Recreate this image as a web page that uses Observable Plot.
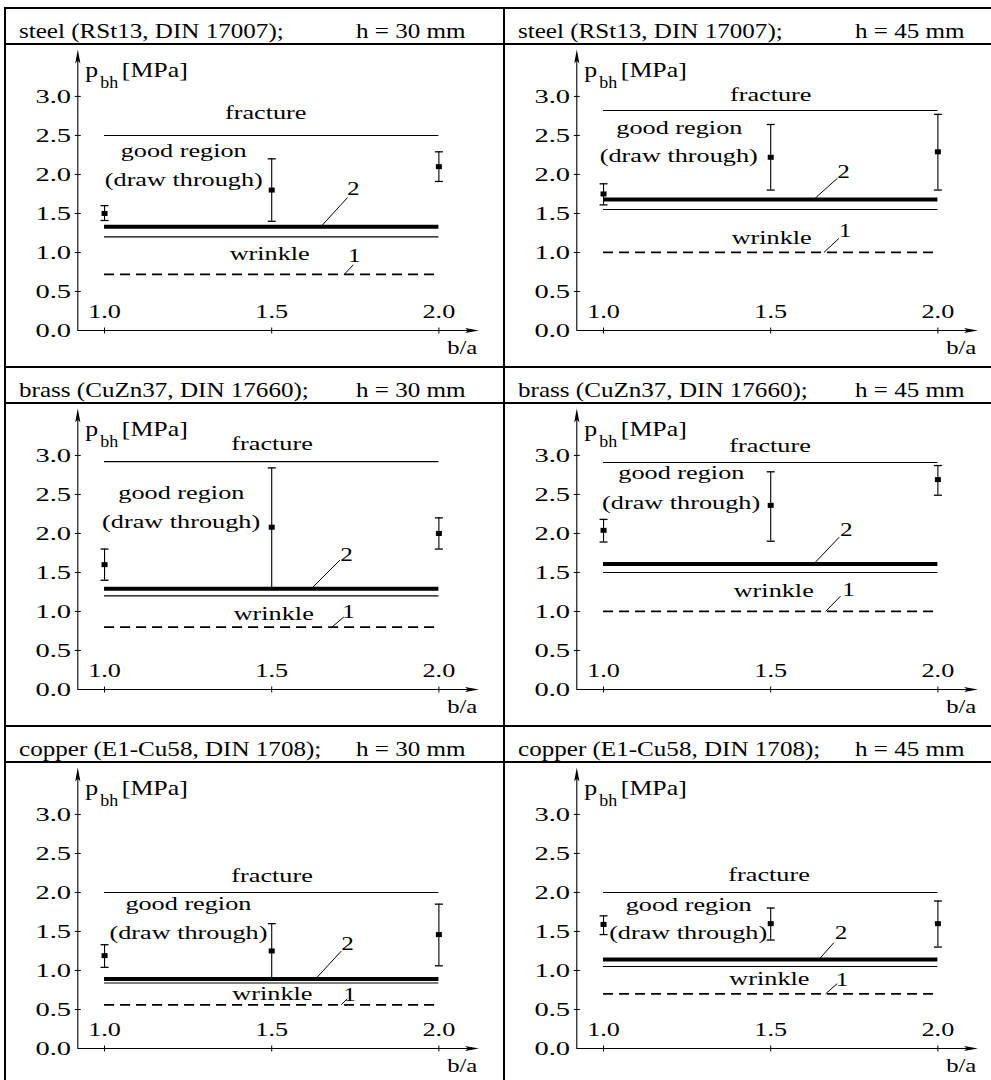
<!DOCTYPE html>
<html>
<head>
<meta charset="utf-8">
<script src="https://cdn.jsdelivr.net/npm/d3@7"></script>
<script src="https://cdn.jsdelivr.net/npm/@observablehq/plot@0.6"></script>
<style>
html, body { margin: 0; padding: 0; background: #fff; }
#grid { position: absolute; left: 0; top: 0; width: 991px; height: 1080px; overflow: hidden; }
.cell { position: absolute; width: 497px; height: 357px; border-left: 2px solid #000; border-top: 2px solid #000; }
.head { position: absolute; left: 0; top: 0; width: 520px; height: 34px; border-bottom: 2px solid #000;
        font-family: "Liberation Serif", "Times New Roman", serif; font-size: 22px; color: #000; }
.head span { position: absolute; top: 11px; line-height: 22px; white-space: nowrap; transform-origin: 0 0; transform: scaleX(1.14); }
.plotwrap { position: absolute; left: 0; top: 36px; }
.plotwrap svg text { font-family: "Liberation Serif", "Times New Roman", serif; }
</style>
</head>
<body>
<div id="grid"></div>
<script>
// ---------------- data ----------------
const materials = ["steel (RSt13, DIN 17007);", "steel (RSt13, DIN 17007);",
                   "brass (CuZn37, DIN 17660);", "brass (CuZn37, DIN 17660);",
                   "copper (E1-Cu58, DIN 1708);", "copper (E1-Cu58, DIN 1708);"];
const thickness = ["h = 30 mm", "h = 45 mm", "h = 30 mm", "h = 45 mm", "h = 30 mm", "h = 45 mm"];
const ratios = [1.0, 1.5, 2.0];              // b/a
const xTicks = [1.0, 1.5, 2.0];
const yTicks = [0, 0.5, 1.0, 1.5, 2.0, 2.5, 3.0];

const fractureLimit = [2.5, 2.82, 2.92, 2.91, 2.0, 2.0];
const curve2 = [1.33, 1.68, 1.29, 1.61, 0.89, 1.14];
const wrinkleLimit = [1.2, 1.55, 1.2, 1.5, 0.84, 1.05];
const curve1 = [0.72, 1.0, 0.8, 1.0, 0.56, 0.70];

const meanP = [[1.5, 1.8, 2.1], [1.75, 2.22, 2.29], [1.6, 2.08, 2.0],
               [2.04, 2.36, 2.69], [1.19, 1.25, 1.46], [1.59, 1.6, 1.6]];
const lowP  = [[1.41, 1.4, 1.91], [1.61, 1.8, 1.8], [1.4, 1.3, 1.8],
               [1.89, 1.9, 2.49], [1.04, 0.9, 1.06], [1.46, 1.39, 1.3]];
const highP = [[1.6, 2.2, 2.29], [1.88, 2.64, 2.77], [1.8, 2.84, 2.2],
               [2.18, 2.79, 2.87], [1.33, 1.6, 1.85], [1.7, 1.8, 1.89]];

// annotation anchors in data units [b/a, p_bh]
const fractureLabelAt = [[1.482, 2.71], [1.50, 2.946], [1.501, 3.068], [1.498, 3.043], [1.501, 2.132], [1.495, 2.143]];
const goodLabelAt     = [[1.237, 2.218], [1.227, 2.518], [1.23, 2.436], [1.233, 2.692], [1.251, 1.778], [1.255, 1.758]];
const drawLabelAt     = [[1.237, 1.855], [1.225, 2.154], [1.229, 2.064], [1.232, 2.316], [1.251, 1.406], [1.253, 1.40]];
const wrinkleLabelAt  = [[1.494, 0.90], [1.503, 1.113], [1.506, 0.889], [1.509, 1.184], [1.502, 0.624], [1.496, 0.811]];
const label2At = [[1.744, 1.74], [1.718, 1.953], [1.724, 1.65], [1.726, 1.966], [1.727, 1.256], [1.71, 1.408]];
const label1At = [[1.747, 0.88], [1.722, 1.20], [1.73, 0.91], [1.733, 1.197], [1.733, 0.615], [1.713, 0.798]];
// leader lines: [x on curve, x end, y end]
const leader2 = [[1.647, 1.727, 1.705], [1.629, 1.699, 1.949], [1.618, 1.704, 1.658], [1.629, 1.705, 1.953], [1.631, 1.708, 1.248], [1.644, 1.689, 1.357]];
const leader1 = [[1.717, 1.744, 0.842], [1.659, 1.704, 1.18], [1.68, 1.716, 0.93], [1.664, 1.709, 1.197], [1.708, 1.726, 0.637], [1.664, 1.699, 0.832]];

// ---------------- drawing ----------------
const X0 = 0.92, XTIP = 2.12, YTIP = 3.6;
const FONT = "Liberation Serif, Times New Roman, serif";
const arrowSym = {draw(c) { c.moveTo(0, 0); c.lineTo(2.6, 14); c.lineTo(0, 11); c.lineTo(-2.6, 14); c.closePath(); }};
const hTick = {draw(c) { c.moveTo(-3, 0); c.lineTo(3, 0); }};
const vTick = {draw(c) { c.moveTo(0, -3); c.lineTo(0, 3); }};
const capSym = {draw(c) { c.moveTo(-4, 0); c.lineTo(4, 0); }};
const sqSym = {draw(c) { c.rect(-3, -2.5, 6, 5); }};
const fmt = d3.format(".1f");

const stretchFactors = {annot: 1.38, num: 1.4, ylab: 1.5, xlab: 1.38, unitp: 1.23, unitsub: 1.12, xname: 1.3};

// widen glyphs horizontally (the source figure is horizontally stretched), keeping each label's anchor
function stretch(svg) {
  svg.querySelectorAll("g[aria-description]").forEach(g => {
    const f = stretchFactors[g.getAttribute("aria-description")];
    if (!f) return;
    g.querySelectorAll("text").forEach(t => {
      const anchor = getComputedStyle(t).textAnchor || "start";
      const b0 = t.getBBox();
      const L = t.getComputedTextLength();
      if (!(L > 0)) return;
      t.setAttribute("text-anchor", "start");
      t.style.textAnchor = "start";
      t.setAttribute("textLength", (L * f).toFixed(2));
      t.setAttribute("lengthAdjust", "spacingAndGlyphs");
      const b1 = t.getBBox();
      let want;
      if (anchor === "end") want = b0.x + b0.width - b1.width;
      else if (anchor === "middle") want = b0.x + b0.width / 2 - b1.width / 2;
      else want = b0.x;
      const shift = want - b1.x;
      if (Math.abs(shift) > 0.05) t.setAttribute("dx", shift.toFixed(2));
    });
  });
}

function txt(data, opts, kind) {
  return Plot.text(data, {fill: "#000", fontFamily: FONT, ariaDescription: kind, ...opts});
}

function panel(i) {
  const meas = ratios.map((x, j) => ({x, mean: meanP[i][j], lo: lowP[i][j], hi: highP[i][j]}));
  const pt = a => [{x: a[0], y: a[1]}];
  return Plot.plot({
    width: 497, height: 321,
    marginLeft: 71.3, marginRight: 24.5, marginTop: 4.1, marginBottom: 36,
    x: {domain: [X0, XTIP], axis: null},
    y: {domain: [0, YTIP], axis: null},
    style: {fontFamily: FONT, fontSize: "19px", color: "#000", background: "transparent", overflow: "visible"},
    marks: [
      // axes
      Plot.ruleY([0], {x1: X0, x2: XTIP - 0.02, stroke: "#000", strokeWidth: 1.1}),
      Plot.ruleX([X0], {y1: 0, y2: YTIP - 0.08, stroke: "#000", strokeWidth: 1.1}),
      Plot.dot([{x: XTIP, y: 0}], {x: "x", y: "y", symbol: arrowSym, rotate: 90, fill: "#000", stroke: "none"}),
      Plot.dot([{x: X0, y: YTIP}], {x: "x", y: "y", symbol: arrowSym, fill: "#000", stroke: "none"}),
      Plot.dot(yTicks.filter(t => t > 0), {x: () => X0, y: d => d, symbol: hTick, stroke: "#000", fill: "none", strokeWidth: 1}),
      Plot.dot(xTicks, {x: d => d, y: () => 0, symbol: vTick, stroke: "#000", fill: "none", strokeWidth: 1}),
      txt(yTicks, {y: d => d, frameAnchor: "left", textAnchor: "end", dx: -6.8, text: d => fmt(d), fontSize: 19}, "ylab"),
      txt(xTicks, {x: d => d, frameAnchor: "bottom", lineAnchor: "bottom", dy: -12.5, text: d => fmt(d), fontSize: 19}, "xlab"),
      txt(["p"], {frameAnchor: "top-left", textAnchor: "start", lineAnchor: "bottom", dx: 7.5, dy: 26.9, text: d => d, fontSize: 21}, "unitp"),
      txt(["bh"], {frameAnchor: "top-left", textAnchor: "start", lineAnchor: "bottom", dx: 22.5, dy: 38.2, text: d => d, fontSize: 16}, "unitsub"),
      txt(["[MPa]"], {frameAnchor: "top-left", textAnchor: "start", lineAnchor: "bottom", dx: 44, dy: 26.9, text: d => d, fontSize: 21}, "unitp"),
      txt(["b/a"], {frameAnchor: "bottom-right", textAnchor: "end", lineAnchor: "bottom", dx: -1.5, dy: 23, text: d => d, fontSize: 19}, "xname"),
      // limit lines
      Plot.ruleY([fractureLimit[i]], {x1: ratios[0], x2: ratios[2], stroke: "#000", strokeWidth: 1.1}),
      Plot.ruleY([wrinkleLimit[i]], {x1: ratios[0], x2: ratios[2], stroke: "#000", strokeWidth: 1.1}),
      Plot.ruleY([curve2[i]], {x1: ratios[0], x2: ratios[2], stroke: "#000", strokeWidth: 4}),
      Plot.ruleY([curve1[i]], {x1: ratios[0], x2: ratios[2], stroke: "#000", strokeWidth: 1.7, strokeDasharray: "10,6"}),
      // leaders
      Plot.link([leader2[i]], {x1: d => d[0], y1: () => curve2[i], x2: d => d[1], y2: d => d[2], stroke: "#000", strokeWidth: 1}),
      Plot.link([leader1[i]], {x1: d => d[0], y1: () => curve1[i], x2: d => d[1], y2: d => d[2], stroke: "#000", strokeWidth: 1}),
      // measurements
      Plot.ruleX(meas, {x: "x", y1: "lo", y2: "hi", stroke: "#000", strokeWidth: 1.1}),
      Plot.dot(meas, {x: "x", y: "lo", symbol: capSym, stroke: "#000", fill: "none", strokeWidth: 1.3}),
      Plot.dot(meas, {x: "x", y: "hi", symbol: capSym, stroke: "#000", fill: "none", strokeWidth: 1.3}),
      Plot.dot(meas, {x: "x", y: "mean", symbol: sqSym, fill: "#000", stroke: "none"}),
      // annotations
      txt(pt(fractureLabelAt[i]), {x: "x", y: "y", text: () => "fracture", lineAnchor: "bottom", fontSize: 19}, "annot"),
      txt(pt(goodLabelAt[i]), {x: "x", y: "y", text: () => "good region", lineAnchor: "bottom", fontSize: 19}, "annot"),
      txt(pt(drawLabelAt[i]), {x: "x", y: "y", text: () => "(draw through)", lineAnchor: "bottom", fontSize: 19}, "annot"),
      txt(pt(wrinkleLabelAt[i]), {x: "x", y: "y", text: () => "wrinkle", lineAnchor: "bottom", fontSize: 19}, "annot"),
      txt(pt(label2At[i]), {x: "x", y: "y", text: () => "2", lineAnchor: "bottom", fontSize: 18}, "num"),
      txt(pt(label1At[i]), {x: "x", y: "y", text: () => "1", lineAnchor: "bottom", fontSize: 18}, "num")
    ]
  });
}

const grid = document.getElementById("grid");
for (let i = 0; i < 6; i++) {
  const r = Math.floor(i / 2), c = i % 2;
  const cell = document.createElement("div");
  cell.className = "cell";
  cell.style.left = (4 + 499 * c) + "px";
  cell.style.top = (7 + 359 * r) + "px";
  const head = document.createElement("div");
  head.className = "head";
  const s1 = document.createElement("span"); s1.textContent = materials[i]; s1.style.left = "13px";
  const s2 = document.createElement("span"); s2.textContent = thickness[i]; s2.style.left = "350px";
  head.appendChild(s1); head.appendChild(s2);
  cell.appendChild(head);
  const wrap = document.createElement("div");
  wrap.className = "plotwrap";
  cell.appendChild(wrap);
  grid.appendChild(cell);
  const svg = panel(i);
  wrap.appendChild(svg);
  stretch(svg);
}
</script>
</body>
</html>
